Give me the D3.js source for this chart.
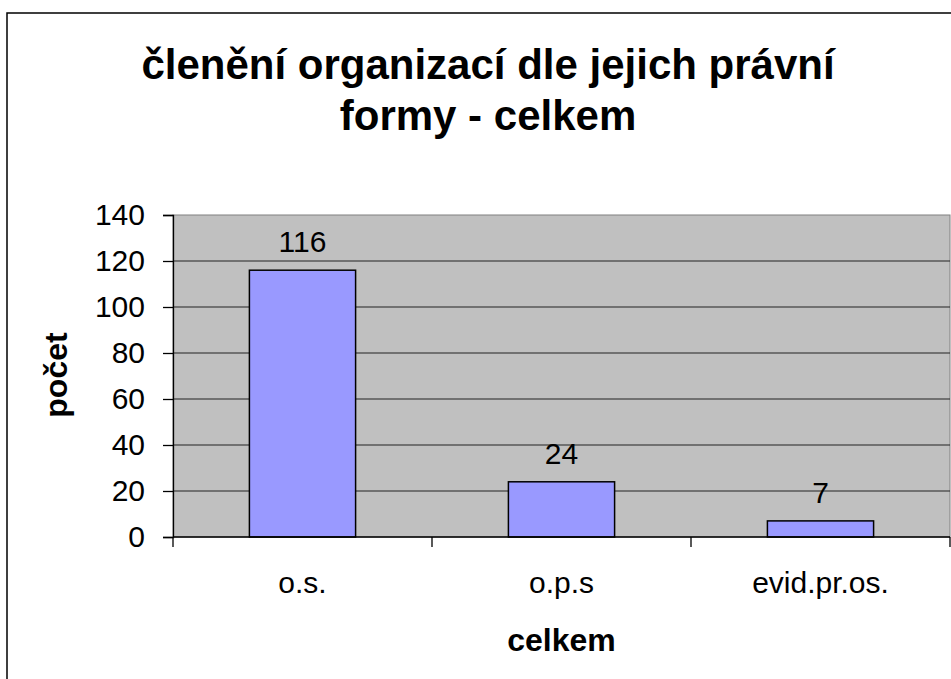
<!DOCTYPE html>
<html>
<head>
<meta charset="utf-8">
<script src="https://cdn.jsdelivr.net/npm/d3@7"></script>
<style>
  body { margin: 0; background: #fff; }
  svg { display: block; font-family: Arial, "Liberation Sans", sans-serif; }
</style>
</head>
<body>
<svg width="951" height="679"></svg>
<script>
// data
const categories = ["o.s.", "o.p.s", "evid.pr.os."];
const counts = [116, 24, 7];
const yTicks = [0, 20, 40, 60, 80, 100, 120, 140];
const titleLines = ["členění organizací dle jejich právní", "formy - celkem"];

const svg = d3.select("svg");

// chart border (runs off the right and bottom edge)
svg.append("rect")
  .attr("x", 7).attr("y", 13)
  .attr("width", 962).attr("height", 700)
  .attr("fill", "#fff")
  .attr("stroke", "#000")
  .attr("stroke-width", 1.5);

// plot area
const plotLeft = 173, plotRight = 950, plotTop = 215, plotBottom = 537;

const x = d3.scaleBand()
  .domain(categories)
  .range([plotLeft, plotRight])
  .paddingInner(0.59)
  .paddingOuter(0.295);

const y = d3.scaleLinear().domain([0, 140]).range([plotBottom, plotTop]);

svg.append("rect")
  .attr("x", plotLeft).attr("y", plotTop)
  .attr("width", plotRight - plotLeft).attr("height", plotBottom - plotTop)
  .attr("fill", "#c0c0c0")
  .attr("stroke", "#808080")
  .attr("stroke-width", 1);

// gridlines
svg.append("g")
  .selectAll("line")
  .data(yTicks.filter((d) => d > 0 && d < 140))
  .join("line")
  .attr("x1", plotLeft).attr("x2", plotRight)
  .attr("y1", (d) => y(d)).attr("y2", (d) => y(d))
  .attr("stroke", "#222")
  .attr("stroke-width", 1);

// bars
svg.append("g")
  .selectAll("rect")
  .data(categories)
  .join("rect")
  .attr("x", (d) => x(d))
  .attr("width", x.bandwidth())
  .attr("y", (d, i) => y(counts[i]))
  .attr("height", (d, i) => y(0) - y(counts[i]))
  .attr("fill", "#9999ff")
  .attr("stroke", "#000")
  .attr("stroke-width", 1.5);

// value labels
svg.append("g")
  .selectAll("text")
  .data(categories)
  .join("text")
  .attr("x", (d) => x(d) + x.bandwidth() / 2)
  .attr("y", (d, i) => y(counts[i]) - 18)
  .attr("text-anchor", "middle")
  .attr("font-size", 30)
  .text((d, i) => counts[i]);

// y axis
const yAxis = svg.append("g")
  .attr("transform", `translate(${plotLeft},0)`)
  .call(d3.axisLeft(y).tickValues(yTicks).tickSize(10).tickPadding(18));
yAxis.select(".domain").attr("stroke", "#000").attr("stroke-width", 1.3);
yAxis.selectAll(".tick line").attr("stroke", "#000").attr("stroke-width", 1.3);
yAxis.selectAll(".tick text")
  .attr("font-size", 30)
  .attr("font-family", "Arial, 'Liberation Sans', sans-serif")
  .attr("fill", "#000");

// x axis
const step = x.step();
const bounds = [plotLeft].concat(categories.map((d) => x(d) + x.bandwidth() / 2 + step / 2));
const xAxis = svg.append("g");
xAxis.append("line")
  .attr("x1", plotLeft).attr("x2", plotRight)
  .attr("y1", plotBottom).attr("y2", plotBottom)
  .attr("stroke", "#000").attr("stroke-width", 1.3);
xAxis.selectAll("line.tick")
  .data(bounds)
  .join("line")
  .attr("class", "tick")
  .attr("x1", (d) => d).attr("x2", (d) => d)
  .attr("y1", plotBottom).attr("y2", plotBottom + 10)
  .attr("stroke", "#000").attr("stroke-width", 1.3);
xAxis.selectAll("text")
  .data(categories)
  .join("text")
  .attr("x", (d) => x(d) + x.bandwidth() / 2)
  .attr("y", 593)
  .attr("text-anchor", "middle")
  .attr("font-size", 30)
  .text((d) => d);

// axis titles
svg.append("text")
  .attr("x", (plotLeft + plotRight) / 2)
  .attr("y", 651)
  .attr("text-anchor", "middle")
  .attr("font-size", 32)
  .attr("font-weight", "bold")
  .text("celkem");

svg.append("text")
  .attr("transform", "translate(67,375) rotate(-90)")
  .attr("text-anchor", "middle")
  .attr("font-size", 32)
  .attr("font-weight", "bold")
  .text("počet");

// title
svg.append("g")
  .selectAll("text")
  .data(titleLines)
  .join("text")
  .attr("x", 488)
  .attr("y", (d, i) => 79 + i * 51)
  .attr("text-anchor", "middle")
  .attr("font-size", 42)
  .attr("font-weight", "bold")
  .text((d) => d);
</script>
</body>
</html>
